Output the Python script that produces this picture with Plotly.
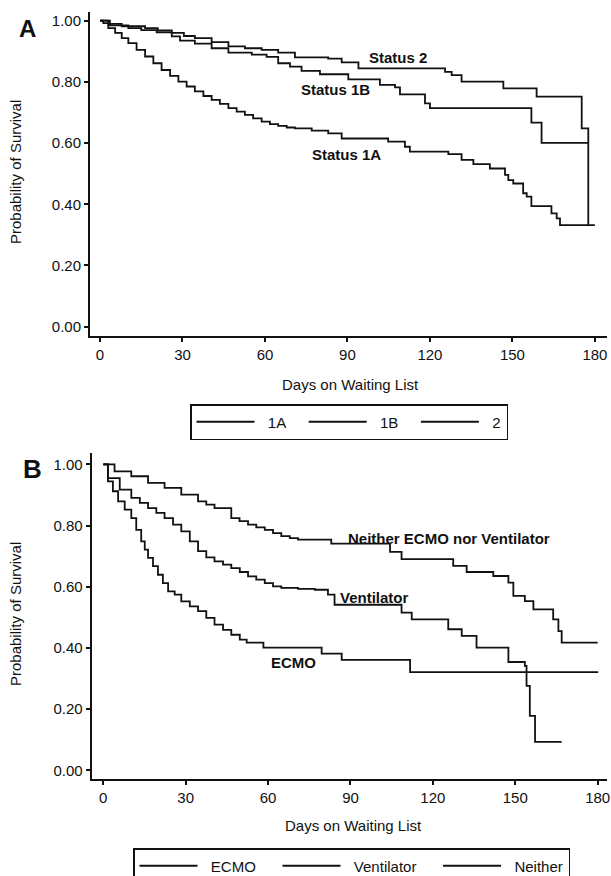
import plotly.graph_objects as go

# ---------------- Data ----------------
# Panel A: survival by listing status (Kaplan-Meier step points: day, survival after drop)
a_1a_days = [0, 1.2, 3.0, 5.5, 7.9, 10.3, 13.3, 16.4, 19.4, 22.4, 25.5, 28.5, 31.5, 34.5, 37.6, 40.6, 43.6,
             46.7, 49.7, 52.7, 55.7, 58.8, 61.8, 64.8, 67.9, 70.9, 77.0, 83.0, 87.9,
             104.8, 110.9, 112.7, 126.7, 131.5, 135.8, 141.8, 147.3, 148.5, 150.3, 153.9, 155.2, 156.9,
             164.2, 166.1, 167.3, 180]
a_1a_surv = [1.0, 0.992, 0.976, 0.960, 0.943, 0.927, 0.905, 0.883, 0.861, 0.839, 0.820, 0.801, 0.785, 0.769,
             0.754, 0.741, 0.728, 0.714, 0.703, 0.692, 0.681, 0.670, 0.662, 0.656, 0.651, 0.648, 0.641, 0.632,
             0.615, 0.605, 0.588, 0.572, 0.564, 0.545, 0.531, 0.517, 0.496, 0.479, 0.468, 0.436, 0.425,
             0.394, 0.370, 0.354, 0.332, 0.332]

a_1b_days = [0, 3.6, 10.3, 15.0, 20.6, 26.1, 29.1, 34.5, 40.6, 46.7, 55.2, 60.6, 64.8, 69.1, 73.3, 80.0,
             90.3, 101.8, 107.3, 109.1, 118.2, 120.0, 156.9, 160.6, 177.6]
a_1b_surv = [1.0, 0.985, 0.976, 0.969, 0.962, 0.949, 0.935, 0.925, 0.910, 0.896, 0.889, 0.882, 0.861, 0.850,
             0.836, 0.825, 0.808, 0.790, 0.782, 0.759, 0.730, 0.714, 0.667, 0.601, 0.601]

a_2_days = [0, 3.0, 7.9, 16.4, 21.0, 26.1, 30.5, 34.5, 40.6, 46.7, 52.7, 58.8, 64.8, 70.9, 83.0, 87.9, 94.0,
            125.5, 127.9, 131.5, 146.7, 158.8, 175.2, 177.6]
a_2_surv = [1.0, 0.990, 0.982, 0.976, 0.968, 0.960, 0.950, 0.943, 0.930, 0.916, 0.910, 0.905, 0.896, 0.880,
            0.876, 0.864, 0.844, 0.833, 0.822, 0.801, 0.779, 0.752, 0.648, 0.332]

# Panel B: survival by life support
b_ecmo_days = [0, 1.7, 3.5, 5.4, 7.8, 10.2, 12.0, 13.8, 15.1, 16.3, 18.1, 19.9, 21.7, 23.6, 26.0, 28.4,
               31.5, 34.5, 37.5, 40.5, 43.6, 46.6, 49.7, 52.2, 58.3, 79.5, 86.8, 111.7, 180.2]
b_ecmo_surv = [1.0, 0.944, 0.912, 0.879, 0.852, 0.824, 0.786, 0.748, 0.721, 0.694, 0.667, 0.639, 0.612, 0.585,
               0.574, 0.552, 0.536, 0.520, 0.498, 0.476, 0.459, 0.443, 0.427, 0.417, 0.401, 0.381, 0.361,
               0.321, 0.321]

b_vent_days = [0, 1.7, 6.0, 10.2, 13.3, 16.3, 19.3, 22.3, 25.4, 28.4, 31.5, 34.5, 37.5, 40.5, 43.6, 46.6,
               49.7, 52.7, 55.7, 58.8, 61.8, 64.8, 70.9, 77.0, 81.8, 84.2, 108.6, 112.3, 125.6, 130.5, 135.9,
               147.5, 153.5, 154.1, 155.3, 157.2, 166.9]
b_vent_surv = [1.0, 0.955, 0.917, 0.890, 0.874, 0.857, 0.841, 0.824, 0.803, 0.781, 0.748, 0.716, 0.696, 0.683,
               0.672, 0.661, 0.648, 0.634, 0.623, 0.612, 0.601, 0.596, 0.593, 0.590, 0.574, 0.541, 0.515,
               0.493, 0.461, 0.439, 0.401, 0.354, 0.341, 0.276, 0.178, 0.093, 0.093]

b_neither_days = [0, 4.1, 10.2, 16.3, 22.3, 28.4, 34.5, 37.5, 40.5, 46.6, 49.6, 52.7, 55.7, 58.8, 61.8, 64.8,
                  67.9, 70.9, 83.0, 104.4, 108.6, 127.4, 132.3, 142.0, 147.5, 149.3, 153.5, 156.6, 163.8,
                  165.7, 166.9, 180]
b_neither_surv = [1.0, 0.977, 0.961, 0.939, 0.923, 0.901, 0.879, 0.868, 0.857, 0.824, 0.814, 0.803, 0.794,
                  0.786, 0.775, 0.765, 0.759, 0.754, 0.741, 0.714, 0.690, 0.668, 0.648, 0.635, 0.613, 0.570,
                  0.553, 0.526, 0.493, 0.455, 0.417, 0.417]

x_ticks = [0, 30, 60, 90, 120, 150, 180]
y_ticks = [0.0, 0.2, 0.4, 0.6, 0.8, 1.0]

a_names = ["1A", "1B", "2"]
b_names = ["ECMO", "Ventilator", "Neither"]
a_labels = ["Status 2", "Status 1B", "Status 1A"]
a_label_pos = [(108.5, 0.880), (85.8, 0.776), (89.7, 0.564)]
b_labels = ["Neither ECMO nor Ventilator", "Ventilator", "ECMO"]
b_label_pos = [(125.9, 0.757), (98.6, 0.564), (69.2, 0.352)]

# ---------------- Layout helpers ----------------
W, H = 611, 876
FONT = "Liberation Sans, Arial, Helvetica, sans-serif"
INK = "#111111"
NB = "\u00a0"


def px(xp):
    return xp / W


def py(yp):
    return 1 - yp / H


fig = go.Figure()

line_style = dict(color=INK, width=1.8, shape="hv")

# legend entry texts (padding with no-break spaces mimics the reference's spacing)
a_pad = [3, 3, 0]
a_legend_text = [NB * 2 + n + NB * p for n, p in zip(a_names, a_pad)]
b_pad = [4, 4, 0]
b_legend_text = [NB * 2 + n + NB * p for n, p in zip(b_names, b_pad)]

for name, d, s in zip(a_legend_text, [a_1a_days, a_1b_days, a_2_days], [a_1a_surv, a_1b_surv, a_2_surv]):
    fig.add_trace(go.Scatter(x=d, y=s, mode="lines", name=name, line=line_style,
                             xaxis="x", yaxis="y", legend="legend", hoverinfo="skip"))

for name, d, s in zip(b_legend_text, [b_ecmo_days, b_vent_days, b_neither_days],
                      [b_ecmo_surv, b_vent_surv, b_neither_surv]):
    fig.add_trace(go.Scatter(x=d, y=s, mode="lines", name=name, line=line_style,
                             xaxis="x2", yaxis="y2", legend="legend2", hoverinfo="skip"))

axis_common = dict(showgrid=False, zeroline=False, showline=True, linecolor=INK, linewidth=2,
                   ticks="outside", ticklen=4, tickwidth=1.5, tickcolor=INK,
                   tickfont=dict(family=FONT, size=15, color=INK), mirror=False)

fig.update_layout(
    width=W, height=H,
    margin=dict(l=0, r=0, t=0, b=0, autoexpand=False),
    paper_bgcolor="white", plot_bgcolor="white",
    showlegend=True,
    xaxis=dict(domain=[px(90), px(607)], range=[-3.64, 184.4], tickvals=x_ticks, anchor="y", **axis_common),
    yaxis=dict(domain=[py(336), py(12)], range=[-0.0305, 1.0285], tickvals=y_ticks, tickformat=".2f",
               anchor="x", **axis_common),
    xaxis2=dict(domain=[px(91.7), px(607)], range=[-4.22, 183.4], tickvals=x_ticks, anchor="y2", **axis_common),
    yaxis2=dict(domain=[py(779.3), py(452.7)], range=[-0.0294, 1.0379], tickvals=y_ticks, tickformat=".2f",
                anchor="x2", **axis_common),
    legend=dict(orientation="h", x=px(190), y=py(404), xanchor="left", yanchor="top",
                bordercolor=INK, borderwidth=1.5, bgcolor="white", itemwidth=58,
                font=dict(family=FONT, size=15, color=INK)),
    legend2=dict(orientation="h", x=px(133), y=py(848), xanchor="left", yanchor="top",
                 bordercolor=INK, borderwidth=1.5, bgcolor="white", itemwidth=58,
                 font=dict(family=FONT, size=15, color=INK)),
)

ann = []
# Panel letters
ann.append(dict(text="<b>A</b>", x=px(27), y=py(29), xref="paper", yref="paper", showarrow=False,
                font=dict(family=FONT, size=24, color=INK), xanchor="center", yanchor="middle"))
ann.append(dict(text="<b>B</b>", x=px(32), y=py(469), xref="paper", yref="paper", showarrow=False,
                font=dict(family=FONT, size=26, color=INK), xanchor="center", yanchor="middle"))
# Axis titles
for (xc, yc) in [(350, 384), (353, 825)]:
    ann.append(dict(text="Days on Waiting List", x=px(xc), y=py(yc), xref="paper", yref="paper",
                    showarrow=False, font=dict(family=FONT, size=15, color=INK),
                    xanchor="center", yanchor="middle"))
for (xc, yc) in [(15, 172), (15, 614)]:
    ann.append(dict(text="Probability of Survival", x=px(xc), y=py(yc), xref="paper", yref="paper",
                    showarrow=False, textangle=-90, font=dict(family=FONT, size=15, color=INK),
                    xanchor="center", yanchor="middle"))
# Curve labels
for t, (xd, yd) in zip(a_labels, a_label_pos):
    ann.append(dict(text="<b>" + t + "</b>", x=xd, y=yd, xref="x", yref="y", showarrow=False,
                    font=dict(family=FONT, size=15, color=INK), xanchor="center", yanchor="middle"))
for t, (xd, yd) in zip(b_labels, b_label_pos):
    ann.append(dict(text="<b>" + t + "</b>", x=xd, y=yd, xref="x2", yref="y2", showarrow=False,
                    font=dict(family=FONT, size=15, color=INK), xanchor="center", yanchor="middle"))

fig.update_layout(annotations=ann)

fig.write_html("out.html")
